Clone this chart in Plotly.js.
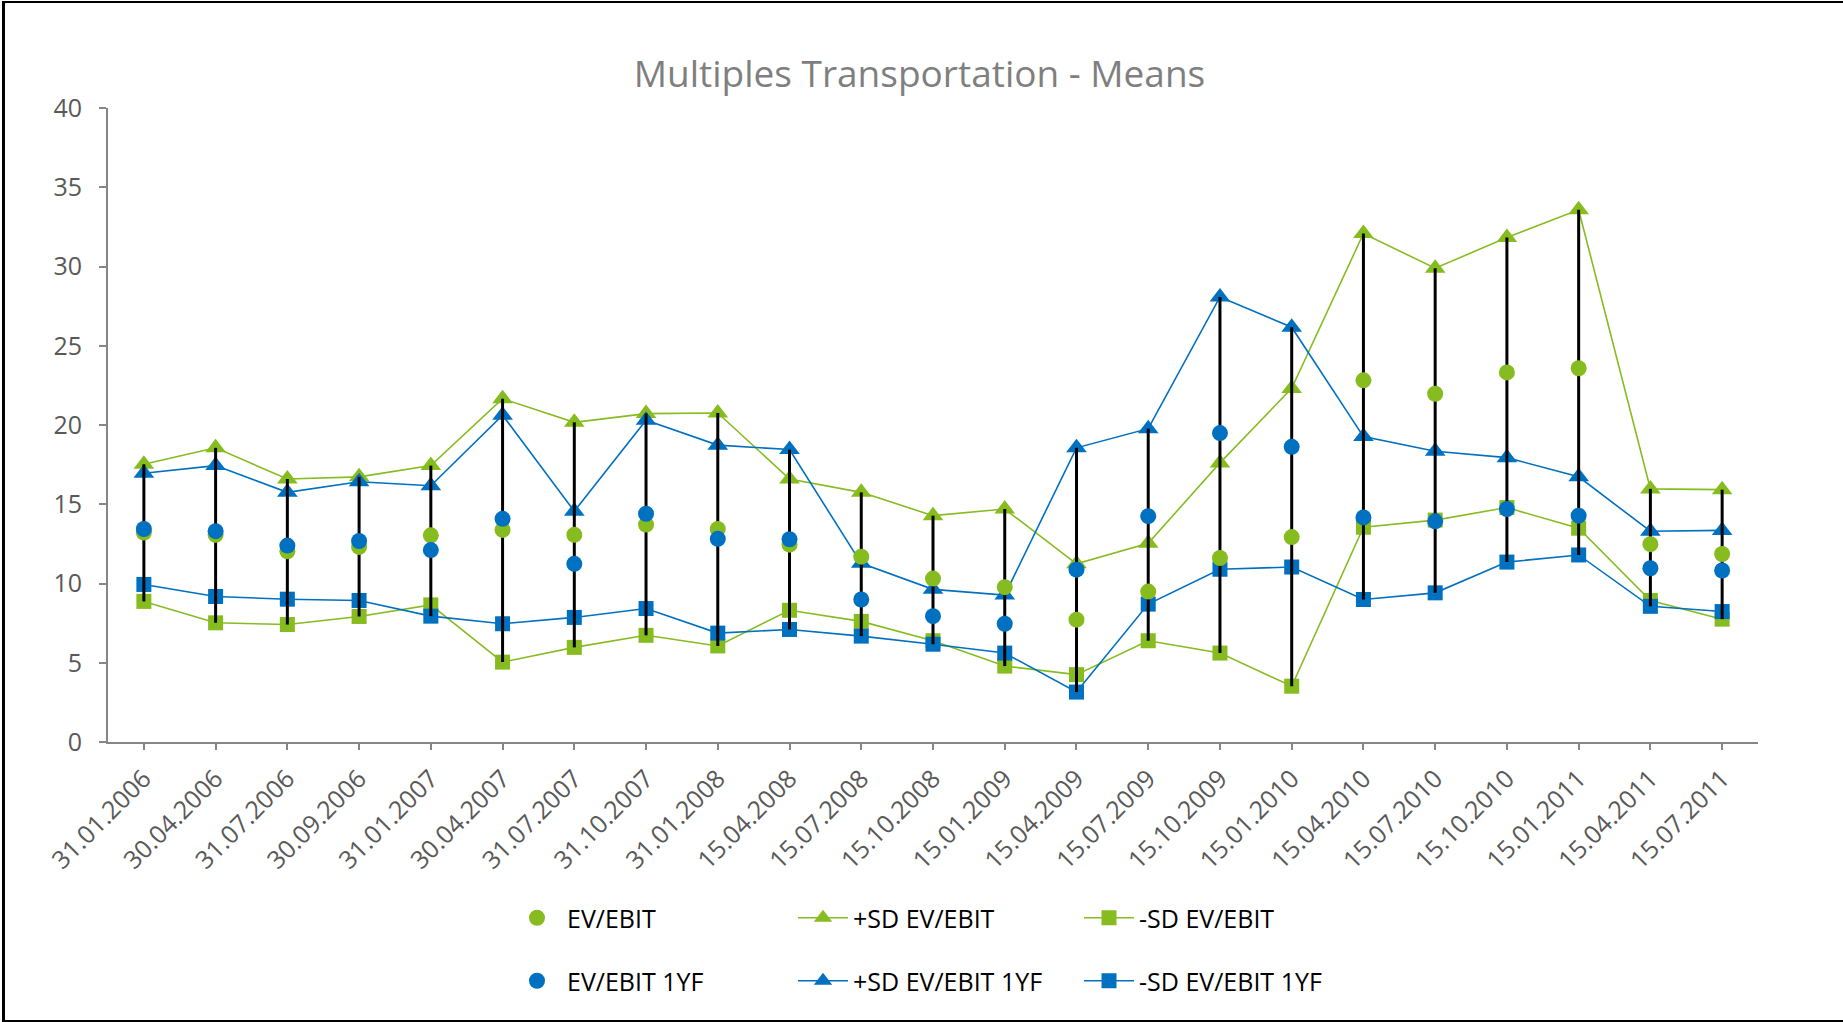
<!DOCTYPE html>
<html><head><meta charset="utf-8">
<script src="https://cdn.plot.ly/plotly-3.0.1.min.js"></script>
<style>
html,body{margin:0;padding:0;background:#fff;}
#wrap{position:relative;width:1843px;height:1022px;overflow:hidden;}
#chart{width:1843px;height:1022px;}
#frame{position:absolute;left:2px;top:1px;width:1900px;height:1017px;border-left:3px solid #000;border-top:2px solid #000;border-bottom:2px solid #000;pointer-events:none;}
</style></head>
<body><div id="wrap"><div id="chart"></div><div id="frame"></div></div>
<script>
const categories = ['31.01.2006','30.04.2006','31.07.2006','30.09.2006','31.01.2007','30.04.2007','31.07.2007','31.10.2007','31.01.2008','15.04.2008','15.07.2008','15.10.2008','15.01.2009','15.04.2009','15.07.2009','15.10.2009','15.01.2010','15.04.2010','15.07.2010','15.10.2010','15.01.2011','15.04.2011','15.07.2011'];

const evEbit        = [13.21,13.07,12.03,12.31,13.04,13.38,13.07,13.72,13.44,12.45,11.69,10.31,9.77,7.72,9.49,11.61,12.93,22.82,21.97,23.32,23.58,12.48,11.86];
const plusSdEvEbit  = [17.52,18.56,16.59,16.73,17.44,21.66,20.17,20.72,20.76,16.59,15.75,14.28,14.70,11.24,12.54,17.61,22.31,32.08,29.89,31.83,33.58,15.97,15.92];
const minusSdEvEbit = [8.87,7.52,7.41,7.92,8.65,5.04,5.97,6.73,6.06,8.31,7.61,6.39,4.79,4.25,6.39,5.61,3.52,13.55,14.00,14.79,13.49,8.93,7.75];
const evEbit1yf        = [13.44,13.30,12.39,12.68,12.11,14.08,11.24,14.40,12.82,12.79,8.99,7.94,7.46,10.87,14.25,19.49,18.62,14.17,13.92,14.70,14.28,10.96,10.82];
const plusSdEvEbit1yf  = [16.96,17.44,15.75,16.42,16.17,20.62,14.56,20.30,18.73,18.45,11.27,9.63,9.27,18.56,19.77,28.08,26.17,19.27,18.34,17.94,16.73,13.30,13.35];
const minusSdEvEbit1yf = [9.94,9.18,9.01,8.93,7.94,7.46,7.86,8.42,6.87,7.10,6.68,6.17,5.61,3.15,8.70,10.90,11.04,8.99,9.41,11.35,11.80,8.56,8.23];

const seriesNames = ['EV/EBIT','+SD EV/EBIT','-SD EV/EBIT','EV/EBIT 1YF','+SD EV/EBIT 1YF','-SD EV/EBIT 1YF'];
const yTicks = [0,5,10,15,20,25,30,35,40];

const GREEN = '#86bc1f';
const BLUE = '#0070c0';
const FONT = 'Open Sans, sans-serif';

// high-low lines computed from the series
const allSeries = [evEbit, plusSdEvEbit, minusSdEvEbit, evEbit1yf, plusSdEvEbit1yf, minusSdEvEbit1yf];
const hlX = [], hlY = [];
categories.forEach((c, i) => {
  const vals = allSeries.map(s => s[i]);
  hlX.push(c, c, null);
  hlY.push(Math.max(...vals), Math.min(...vals), null);
});

function lineTrace(name, y, color, symbol, size, legend, rank) {
  return {type:'scatter', mode:'lines+markers', name, x:categories, y,
    line:{color, width:1.6}, marker:{color, symbol, size, line:{width:0}},
    legend, legendrank:rank, cliponaxis:false};
}
function dotTrace(name, y, color, legend, rank) {
  return {type:'scatter', mode:'markers', name, x:categories, y,
    marker:{color, symbol:'circle', size:16, line:{width:0}},
    legend, legendrank:rank, cliponaxis:false};
}

const traces = [
  lineTrace(seriesNames[1], plusSdEvEbit, GREEN, 'triangle-up', 18, 'legend', 2),
  lineTrace(seriesNames[2], minusSdEvEbit, GREEN, 'square', 15, 'legend', 3),
  lineTrace(seriesNames[4], plusSdEvEbit1yf, BLUE, 'triangle-up', 18, 'legend2', 2),
  lineTrace(seriesNames[5], minusSdEvEbit1yf, BLUE, 'square', 15, 'legend2', 3),
  {type:'scatter', mode:'lines', x:hlX, y:hlY, line:{color:'#000', width:3}, showlegend:false, hoverinfo:'skip'},
  dotTrace(seriesNames[0], evEbit, GREEN, 'legend', 1),
  dotTrace(seriesNames[3], evEbit1yf, BLUE, 'legend2', 1)
];

const axisGray = '#868686';
const tickFont = {family:FONT, size:25, color:'#595959'};
const legendCommon = {orientation:'h', xref:'container', yref:'container', xanchor:'left', yanchor:'middle',
  entrywidth:221, entrywidthmode:'pixels', itemwidth:50, bgcolor:'rgba(0,0,0,0)', borderwidth:0,
  font:{family:FONT, size:25, color:'#000'}, traceorder:'normal'};

const layout = {
  width:1843, height:1022,
  margin:{l:108, r:85, t:108, b:280, pad:0},
  paper_bgcolor:'#fff', plot_bgcolor:'#fff',
  font:{family:FONT},
  title:{text:'Multiples Transportation - Means', font:{family:FONT, size:37, color:'#7f7f7f'},
    xref:'container', yref:'container', x:0.4989, xanchor:'center', y:0.928, yanchor:'middle'},
  xaxis:{type:'category', range:[-0.5, 22.5], showgrid:false, zeroline:false,
    showline:true, linecolor:axisGray, linewidth:2,
    ticks:'outside', ticklen:6, tickwidth:2, tickcolor:axisGray,
    tickangle:-45, tickfont:tickFont, ticklabelstandoff:4, automargin:false},
  xaxis2:{overlaying:'x', anchor:'y', range:[-0.5, 22.5], tickvals:[22.5], showticklabels:false,
    ticks:'outside', ticklen:6, tickwidth:2, tickcolor:axisGray, showline:false, showgrid:false, zeroline:false},
  yaxis:{range:[0,40], tickvals:yTicks, showgrid:false, zeroline:false,
    showline:true, linecolor:axisGray, linewidth:2,
    ticks:'outside', ticklen:7, tickwidth:2, tickcolor:axisGray,
    tickfont:tickFont, ticklabelstandoff:12, automargin:false},
  legend:Object.assign({}, legendCommon, {x:507/1843, y:1-918/1022}),
  legend2:Object.assign({}, legendCommon, {x:507/1843, y:1-981/1022}),
  showlegend:true
};

Plotly.newPlot('chart', traces, layout, {staticPlot:true, displayModeBar:false});
</script>
</body></html>
